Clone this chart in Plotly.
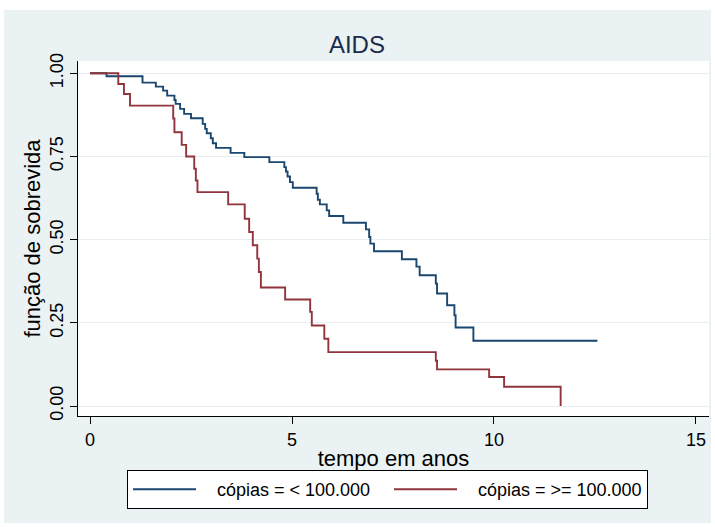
import plotly.graph_objects as go

# ---- data ----
blue_name = "cópias = < 100.000"
blue_t = [0, 0.41, 1.30, 1.63, 1.81, 1.91, 2.09, 2.12, 2.23, 2.33, 2.50, 2.79, 2.85, 2.89, 2.99,
          3.04, 3.12, 3.48, 3.82, 4.44, 4.81, 4.85, 4.89, 4.95, 5.02, 5.61, 5.64, 5.69, 5.86, 5.92,
          6.27, 6.83, 6.91, 6.94, 7.03, 7.72, 8.08, 8.16, 8.56, 8.59, 8.84, 9.02, 9.05, 9.49, 12.56]
blue_s = [1, 0.991, 0.972, 0.960, 0.948, 0.933, 0.920, 0.908, 0.893, 0.878, 0.865, 0.848, 0.833, 0.820, 0.805,
          0.790, 0.776, 0.761, 0.748, 0.733, 0.718, 0.705, 0.690, 0.673, 0.656, 0.638, 0.620, 0.606, 0.588, 0.571,
          0.551, 0.531, 0.508, 0.488, 0.465, 0.441, 0.419, 0.393, 0.368, 0.338, 0.303, 0.273, 0.236, 0.196, 0.196]

red_name = "cópias = >= 100.000"
red_t = [0, 0.70, 0.84, 0.99, 2.06, 2.09, 2.27, 2.38, 2.58, 2.62, 2.66, 3.42, 3.83, 3.94, 4.03,
         4.14, 4.18, 4.23, 4.83, 5.45, 5.49, 5.80, 5.90, 8.56, 8.59, 9.88, 10.25, 11.65]
red_s = [1, 0.968, 0.938, 0.903, 0.864, 0.823, 0.785, 0.750, 0.713, 0.678, 0.643, 0.606, 0.563, 0.523, 0.483,
         0.443, 0.403, 0.356, 0.320, 0.283, 0.242, 0.202, 0.162, 0.136, 0.110, 0.087, 0.058, 0.0]

x_ticks = [0, 5, 10, 15]
y_ticks = [0, 0.25, 0.5, 0.75, 1.0]
y_ticklabels = ["0.00", "0.25", "0.50", "0.75", "1.00"]

title_text = "AIDS"
x_title = "tempo em anos"
y_title = "função de sobrevida"

BLUE = "#1a476f"
RED = "#90353b"
BG = "#eaf2f3"
FONT = "Liberation Sans, Arial, sans-serif"

fig = go.Figure()
fig.add_trace(go.Scatter(x=blue_t, y=blue_s, mode="lines", line=dict(color=BLUE, width=1.9, shape="hv"),
                         name=blue_name, legendwidth=167))
fig.add_trace(go.Scatter(x=red_t, y=red_s, mode="lines", line=dict(color=RED, width=1.9, shape="hv"),
                         name=red_name, legendwidth=164))

W, H = 715, 527
L, R, T, B = 78, 6, 61, 111
pw, ph = W - L - R, H - T - B


def px_x(p):
    return (p - L) / pw


def px_y(p):
    return (H - B - p) / ph


fig.update_layout(
    width=W, height=H,
    margin=dict(l=L, r=R, t=T, b=B, pad=0),
    paper_bgcolor="white",
    plot_bgcolor="white",
    font=dict(family=FONT, size=18, color="black"),
    title=dict(text=title_text, x=px_x(393), xanchor="center", y=1 - 45 / H, yanchor="middle",
               font=dict(size=24, color="#1c2b4a")),
    shapes=[
        dict(type="rect", xref="paper", yref="paper", x0=px_x(4), x1=px_x(711), y0=px_y(523), y1=px_y(10),
             fillcolor=BG, line=dict(width=0), layer="below"),
        dict(type="rect", xref="paper", yref="paper", x0=0, x1=1, y0=0, y1=1,
             fillcolor="white", line=dict(width=0), layer="below"),
    ],
    xaxis=dict(range=[-0.297, 15.322], tickvals=x_ticks, ticks="outside", ticklen=7, tickcolor="black",
               showline=True, linecolor="black", linewidth=1, showgrid=False, zeroline=False,
               title=dict(text=x_title, standoff=2), tickfont=dict(size=18)),
    yaxis=dict(range=[-0.030, 1.037], tickvals=y_ticks, ticktext=y_ticklabels, tickangle=-90,
               ticks="outside", ticklen=7, tickcolor="black",
               showline=True, linecolor="black", linewidth=1, showgrid=True, gridcolor="#e6eef1",
               gridwidth=1, zeroline=False, title=dict(text=y_title, standoff=0), tickfont=dict(size=18)),
    legend=dict(orientation="h", x=px_x(127), xanchor="left", y=px_y(470), yanchor="top",
                bgcolor="white", bordercolor="black", borderwidth=1,
                itemwidth=79, font=dict(size=18), traceorder="normal"),
    showlegend=True,
)

post = """
document.documentElement.style.margin='0';
document.body.style.margin='0';
document.body.style.padding='0';
var gd = document.getElementById('{plot_id}');
function fixLegend(){
  gd.querySelectorAll('.legendlines path.js-line').forEach(function(p){ p.setAttribute('d','M5,0h63'); });
}
fixLegend();
gd.on('plotly_afterplot', fixLegend);
"""

fig.write_html("out.html", post_script=post, config={"displayModeBar": False})
